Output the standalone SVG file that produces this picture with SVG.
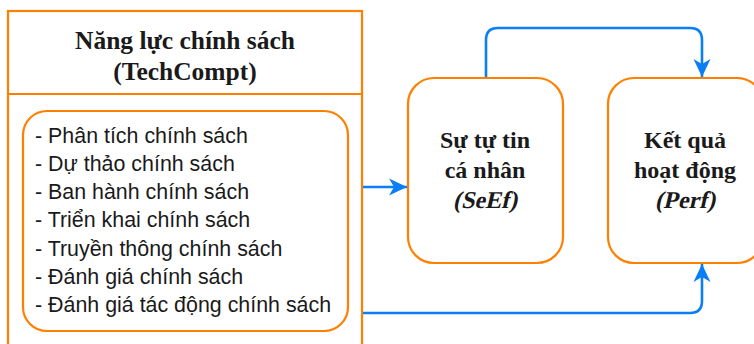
<svg xmlns="http://www.w3.org/2000/svg" width="754" height="344" viewBox="0 0 754 344">
<style>
.box{fill:#fff;stroke:#FF8000;stroke-width:2.2}
.hd{font-family:"Liberation Serif","Times New Roman",serif;font-weight:bold;fill:#1a1a1a;text-anchor:middle}
.li{font-family:"Liberation Sans",Arial,sans-serif;font-size:21.4px;fill:#1a1a1a}
.cn{fill:none;stroke:#0A7FF5;stroke-width:2.6}
</style>
<defs>
<marker id="ah" markerUnits="userSpaceOnUse" markerWidth="20" markerHeight="20" refX="18" refY="10" orient="auto">
<path d="M0,1.5 L18,10 L0,18.5 L5,10 Z" fill="#0A7FF5"/>
</marker>
</defs>
<rect width="754" height="344" fill="#fff"/>
<g id="techcompt">
<rect class="box" x="8" y="11" width="354" height="345"/>
<line x1="8" y1="94" x2="362" y2="94" stroke="#FF8000" stroke-width="2.2"/>
<text class="hd" font-size="25.5" x="185" y="49">Năng lực chính sách</text>
<text class="hd" font-size="25.5" x="185" y="80">(TechCompt)</text>
</g>
<g id="list">
<rect class="box" x="23" y="111" width="325" height="220" rx="24"/>
<text class="li" x="35" y="143">- Phân tích chính sách</text>
<text class="li" x="35" y="171">- Dự thảo chính sách</text>
<text class="li" x="35" y="199">- Ban hành chính sách</text>
<text class="li" x="35" y="227">- Triển khai chính sách</text>
<text class="li" x="35" y="256">- Truyền thông chính sách</text>
<text class="li" x="35" y="284">- Đánh giá chính sách</text>
<text class="li" x="35" y="312">- Đánh giá tác động chính sách</text>
</g>
<g id="seef">
<rect class="box" x="408" y="78" width="155" height="185" rx="26"/>
<text class="hd" font-size="24" x="485" y="148">Sự tự tin</text>
<text class="hd" font-size="24" x="485" y="178">cá nhân</text>
<text class="hd" font-size="24" x="0" y="0" transform="translate(485,208) skewX(-13)">(SeEf)</text>
</g>
<g id="perf">
<rect class="box" x="608" y="78" width="155" height="185" rx="26"/>
<text class="hd" font-size="24" x="685" y="148">Kết quả</text>
<text class="hd" font-size="24" x="685" y="178">hoạt động</text>
<text class="hd" font-size="24" x="0" y="0" transform="translate(685,208) skewX(-13)">(Perf)</text>
</g>
<g id="connectors">
<path class="cn" d="M363,187 H407" marker-end="url(#ah)"/>
<path class="cn" d="M486,77 V40 Q486,28 498,28 H690 Q702,28 702,40 V77" marker-end="url(#ah)"/>
<path class="cn" d="M363,313 H690 Q702,313 702,301 V264" marker-end="url(#ah)"/>
</g>
</svg>
